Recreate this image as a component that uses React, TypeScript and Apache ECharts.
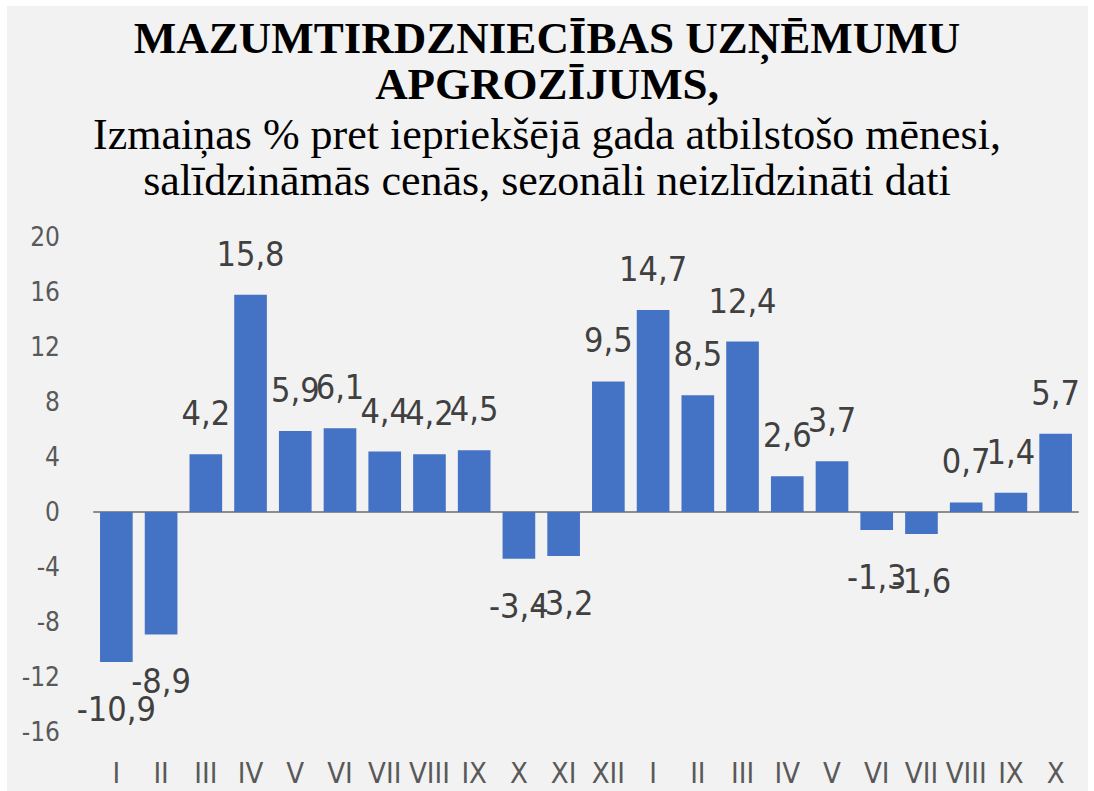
import React, { useEffect, useRef } from "react";
import * as echarts from "echarts";

const categories = ["I", "II", "III", "IV", "V", "VI", "VII", "VIII", "IX", "X", "XI", "XII", "I", "II", "III", "IV", "V", "VI", "VII", "VIII", "IX", "X"];
const values = [-10.9, -8.9, 4.2, 15.8, 5.9, 6.1, 4.4, 4.2, 4.5, -3.4, -3.2, 9.5, 14.7, 8.5, 12.4, 2.6, 3.7, -1.3, -1.6, 0.7, 1.4, 5.7];
const titleLines = ["MAZUMTIRDZNIECĪBAS UZŅĒMUMU", "APGROZĪJUMS,"];
const subtitleLines = ["Izmaiņas % pret iepriekšējā gada atbilstošo mēnesi,", "salīdzināmās cenās, sezonāli neizlīdzināti dati"];

const NARROW = '"Liberation Sans Narrow", "DejaVu Sans Condensed", "Roboto Condensed", sans-serif';
const SERIF = '"Liberation Serif", "DejaVu Serif", serif';

export default function App() {
  const ref = useRef<HTMLDivElement>(null);
  useEffect(() => {
    document.body.style.margin = "0";
    const chart = echarts.init(ref.current!, null, { renderer: "svg" });
    chart.setOption({
      animation: false,
      backgroundColor: "#ffffff",
      graphic: [
        { type: "rect", left: 7, top: 6, shape: { width: 1081, height: 785 }, style: { fill: "#f2f2f2" }, z: -10, silent: true },
      ],
      title: [
        {
          text: titleLines.join("\n"),
          left: "center",
          top: 10,
          textStyle: { fontFamily: SERIF, fontWeight: "bold", fontSize: 45, lineHeight: 46, color: "#000" },
        },
        {
          text: subtitleLines.join("\n"),
          left: "center",
          top: 106,
          textStyle: { fontFamily: SERIF, fontWeight: "normal", fontSize: 44, lineHeight: 46, color: "#000" },
        },
      ],
      grid: { left: 94, right: 16, top: 237, bottom: 59, containLabel: false },
      xAxis: [
        {
          type: "category",
          data: categories,
          position: "bottom",
          axisLine: { show: false, onZero: false },
          axisTick: { show: false },
          axisLabel: { interval: 0, fontFamily: NARROW, fontSize: 29, color: "#595959", margin: 26 },
        },
        {
          type: "category",
          data: categories,
          position: "bottom",
          axisLine: { show: true, onZero: true, lineStyle: { color: "#8c8c8c", width: 2 } },
          axisTick: { show: false },
          axisLabel: { show: false },
        },
      ],
      yAxis: {
        type: "value",
        min: -16,
        max: 20,
        interval: 4,
        splitLine: { show: false },
        axisLine: { show: false },
        axisTick: { show: false },
        axisLabel: { fontFamily: NARROW, fontSize: 26, color: "#595959", margin: 34 },
      },
      series: [
        {
          type: "bar",
          xAxisIndex: 0,
          barCategoryGap: "27%",
          itemStyle: { color: "#4472c4" },
          data: values.map((v) => ({
            value: v,
            label: v < 0 ? { position: "bottom", distance: 30 } : { position: "top", distance: 24 },
          })),
          label: {
            show: true,
            fontFamily: NARROW,
            fontSize: 34,
            color: "#404040",
            formatter: (p: any) => String(p.value).replace(".", ","),
          },
        },
      ],
    });
    return () => chart.dispose();
  }, []);
  return <div ref={ref} style={{ width: 1094, height: 791 }} />;
}
